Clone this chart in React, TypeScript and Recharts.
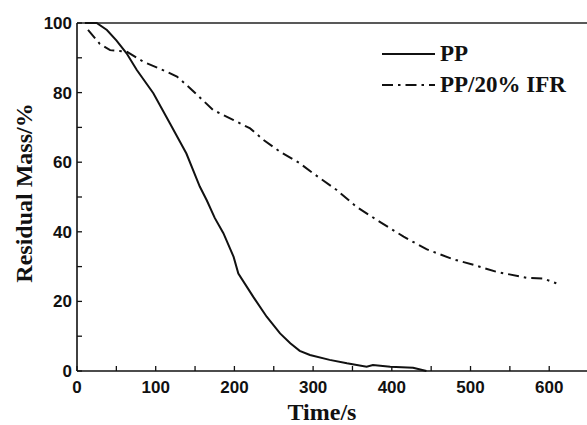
import React from 'react';
import {
  LineChart, Line, XAxis, YAxis, ReferenceLine, Legend
} from 'recharts';

// PP (solid) — time in s, residual mass in %
const ppTime = [10, 25, 38, 50, 63, 76, 97, 118, 139, 156, 165, 175, 186, 199, 205, 224, 241, 258, 271, 283, 296, 321, 343, 368, 376, 398, 427, 444];
const ppMass = [100, 100, 98, 95, 91.3, 86.5, 79.8, 71.2, 62.5, 53, 49, 44, 39.6, 32.8, 28, 21.3, 15.6, 10.8, 8, 5.8, 4.6, 3.2, 2.2, 1.2, 1.7, 1.2, 0.9, 0];

// PP/20% IFR (dash-dot)
const ifrTime = [14, 29, 42, 63, 84, 114, 127, 144, 173, 199, 220, 237, 258, 283, 300, 330, 355, 381, 415, 444, 478, 504, 533, 571, 592, 609];
const ifrMass = [98, 94, 92.2, 91.8, 88.9, 86, 84.6, 81.2, 75, 72.1, 69.7, 66.4, 63, 59.7, 56.8, 52, 47.2, 43.4, 38.6, 35, 32.1, 30.5, 28.5, 26.8, 26.6, 25.2];

const xTicks = [0, 50, 100, 150, 200, 250, 300, 350, 400, 450, 500, 550, 600];
const yTicks = [0, 10, 20, 30, 40, 50, 60, 70, 80, 90, 100];

const ppData = ppTime.map((t, i) => ({ t, v: ppMass[i] }));
const ifrData = ifrTime.map((t, i) => ({ t, v: ifrMass[i] }));

const DASH_DOT = '11 5 2.5 5';
const tickFont = { fontFamily: '"Liberation Sans", Arial, sans-serif', fontWeight: 700, fontSize: 17, fill: '#111' };
const serif = '"Liberation Serif", "Times New Roman", serif';

const XTick = (props: any) => {
  const { x, y, payload } = props;
  const major = payload.value % 100 === 0;
  return (
    <g>
      <line x1={x} x2={x} y1={y} y2={y - 5} stroke="#111" strokeWidth={1.3} />
      {major && (
        <text x={x} y={y + 22} textAnchor="middle" {...tickFont}>{payload.value}</text>
      )}
    </g>
  );
};

const YTick = (props: any) => {
  const { x, y, payload } = props;
  const major = payload.value % 20 === 0;
  return (
    <g>
      <line x1={x} x2={x + 5} y1={y} y2={y} stroke="#111" strokeWidth={1.3} />
      {major && (
        <text x={x - 5} y={y + 6} textAnchor="end" {...tickFont}>{payload.value}</text>
      )}
    </g>
  );
};

const renderLegend = () => (
  <div style={{ fontFamily: serif, fontWeight: 700, fontSize: 23, color: '#111', lineHeight: '31px' }}>
    {[{ name: 'PP', dash: undefined }, { name: 'PP/20% IFR', dash: DASH_DOT }].map((item) => (
      <div key={item.name} style={{ display: 'flex', alignItems: 'center', whiteSpace: 'nowrap' }}>
        <svg width={55} height={10} style={{ marginRight: 3 }}>
          <line x1={0} x2={53} y1={5} y2={5} stroke="#111" strokeWidth={2} strokeDasharray={item.dash} />
        </svg>
        <span>{item.name}</span>
      </div>
    ))}
  </div>
);

const App: React.FC = () => {
  return (
    <div style={{ position: 'absolute', left: 0, top: 0, width: 587, height: 425, background: '#fff' }}>
      <LineChart width={587} height={425} margin={{ top: 23, right: 0, bottom: 0, left: 0 }}>
        <XAxis
          type="number"
          dataKey="t"
          domain={[0, 648]}
          ticks={xTicks}
          interval={0}
          allowDataOverflow
          height={54}
          tickSize={0}
          tickMargin={0}
          tickLine={false}
          tick={<XTick />}
          axisLine={{ stroke: '#111', strokeWidth: 1.6 }}
          label={{
            content: ({ viewBox }: any) => (
              <text x={viewBox.x + viewBox.width / 2 - 10} y={viewBox.y + 49} textAnchor="middle"
                fontFamily={serif} fontWeight={700} fontSize={24} fill="#111">Time/s</text>
            ),
          }}
        />
        <YAxis
          type="number"
          domain={[0, 100]}
          ticks={yTicks}
          interval={0}
          width={77}
          tickSize={0}
          tickMargin={0}
          tickLine={false}
          tick={<YTick />}
          axisLine={{ stroke: '#111', strokeWidth: 1.6 }}
          label={{
            content: ({ viewBox }: any) => {
              const cx = 24;
              const cy = viewBox.y + viewBox.height / 2 - 4;
              return (
                <text x={cx} y={cy} textAnchor="middle" dominantBaseline="central"
                  transform={`rotate(-90, ${cx}, ${cy})`}
                  fontFamily={serif} fontWeight={700} fontSize={24} fill="#111">Residual Mass/%</text>
              );
            },
          }}
        />
        <ReferenceLine y={100} stroke="#222" strokeWidth={1.3} ifOverflow="extendDomain" />
        <Legend
          layout="vertical"
          align="center"
          verticalAlign="middle"
          content={renderLegend}
          wrapperStyle={{ left: 382, top: 38, width: 200 }}
        />
        <Line data={ppData} dataKey="v" name="PP" type="linear" stroke="#111" strokeWidth={2}
          dot={false} isAnimationActive={false} />
        <Line data={ifrData} dataKey="v" name="PP/20% IFR" type="linear" stroke="#111" strokeWidth={2}
          strokeDasharray={DASH_DOT} dot={false} isAnimationActive={false} />
      </LineChart>
    </div>
  );
};

export default App;
